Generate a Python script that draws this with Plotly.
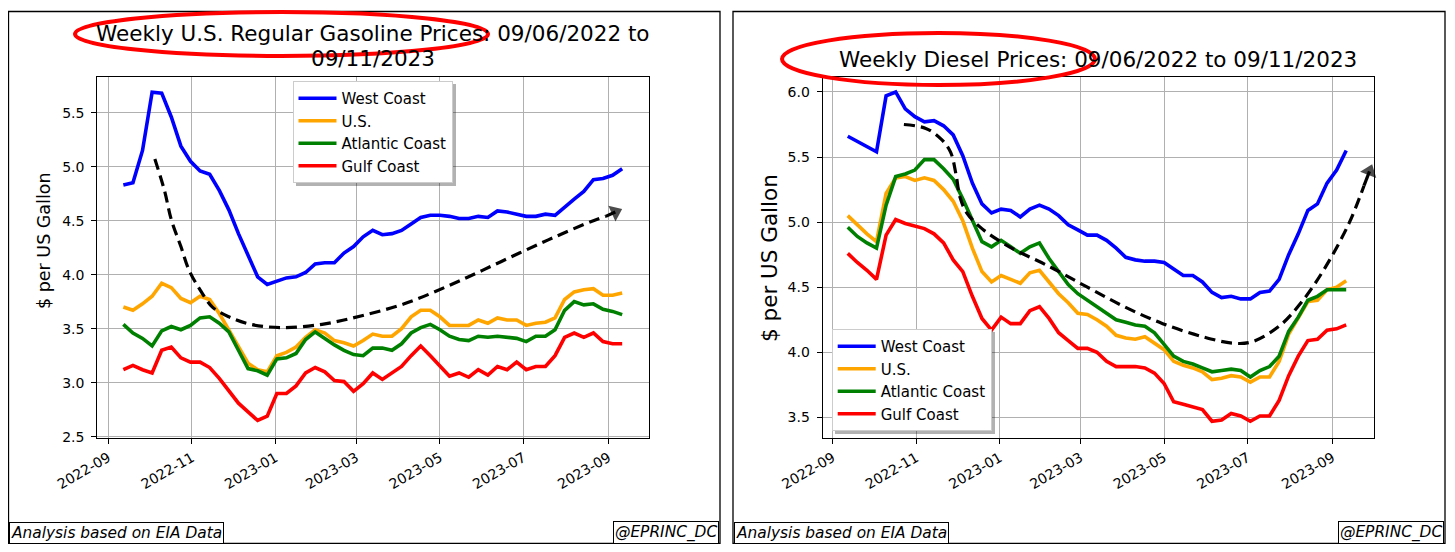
import pandas as pd
import plotly.graph_objects as go

# semanas (segunda-feira) de 12/09/2022 a 11/09/2023
semanas = pd.date_range("2022-09-12", periods=53, freq="7D")

# gasolina regular, $/galao
gas_west = [4.83, 4.85, 5.15, 5.69, 5.68, 5.46, 5.19, 5.05, 4.96, 4.93, 4.78, 4.60, 4.38, 4.17,
            3.98, 3.91, 3.94, 3.97, 3.98, 4.02, 4.10, 4.11, 4.11, 4.20, 4.26, 4.35, 4.41, 4.37,
            4.38, 4.41, 4.47, 4.53, 4.55, 4.55, 4.54, 4.52, 4.52, 4.54, 4.53, 4.59, 4.58, 4.56,
            4.54, 4.54, 4.56, 4.55, 4.63, 4.70, 4.77, 4.88, 4.89, 4.92, 4.98]
gas_us = [3.70, 3.67, 3.73, 3.80, 3.92, 3.88, 3.78, 3.74, 3.80, 3.77, 3.64, 3.49, 3.33, 3.18,
          3.12, 3.10, 3.25, 3.28, 3.33, 3.42, 3.49, 3.46, 3.39, 3.37, 3.34, 3.39, 3.45, 3.43,
          3.43, 3.50, 3.61, 3.67, 3.67, 3.61, 3.53, 3.53, 3.53, 3.58, 3.55, 3.60, 3.58, 3.58,
          3.53, 3.55, 3.56, 3.60, 3.77, 3.84, 3.86, 3.87, 3.81, 3.81, 3.83]
gas_atl = [3.54, 3.46, 3.41, 3.34, 3.48, 3.52, 3.49, 3.53, 3.60, 3.61, 3.55, 3.47, 3.30, 3.13,
           3.11, 3.07, 3.22, 3.23, 3.27, 3.40, 3.47, 3.41, 3.35, 3.30, 3.26, 3.25, 3.32, 3.32,
           3.30, 3.36, 3.46, 3.51, 3.54, 3.49, 3.43, 3.40, 3.39, 3.43, 3.42, 3.43, 3.42, 3.41,
           3.38, 3.43, 3.43, 3.49, 3.67, 3.75, 3.72, 3.73, 3.68, 3.66, 3.63]
gas_gulf = [3.12, 3.16, 3.12, 3.09, 3.30, 3.33, 3.23, 3.19, 3.19, 3.14, 3.04, 2.92, 2.81, 2.73,
            2.65, 2.69, 2.90, 2.90, 2.97, 3.09, 3.14, 3.10, 3.02, 3.01, 2.92, 2.99, 3.09, 3.03,
            3.09, 3.15, 3.25, 3.34, 3.25, 3.15, 3.06, 3.09, 3.05, 3.12, 3.07, 3.15, 3.12, 3.19,
            3.12, 3.15, 3.15, 3.25, 3.42, 3.46, 3.42, 3.46, 3.38, 3.36, 3.36]

# diesel, $/galao
dsl_west = [5.66, 5.62, 5.58, 5.54, 5.97, 6.00, 5.87, 5.81, 5.77, 5.78, 5.74, 5.67, 5.51, 5.30,
            5.14, 5.07, 5.10, 5.09, 5.04, 5.10, 5.13, 5.10, 5.05, 4.98, 4.94, 4.90, 4.90, 4.86,
            4.80, 4.73, 4.71, 4.70, 4.70, 4.69, 4.64, 4.59, 4.59, 4.54, 4.46, 4.42, 4.43, 4.41,
            4.41, 4.46, 4.47, 4.56, 4.75, 4.91, 5.09, 5.14, 5.30, 5.40, 5.55]
dsl_us = [5.05, 4.98, 4.91, 4.85, 5.22, 5.34, 5.35, 5.32, 5.34, 5.32, 5.25, 5.16, 5.01, 4.80,
          4.62, 4.54, 4.59, 4.56, 4.53, 4.61, 4.63, 4.54, 4.45, 4.38, 4.30, 4.29, 4.25, 4.20,
          4.13, 4.11, 4.10, 4.12, 4.07, 4.02, 3.93, 3.90, 3.88, 3.85, 3.79, 3.80, 3.82, 3.81,
          3.77, 3.81, 3.81, 3.93, 4.14, 4.26, 4.39, 4.40, 4.48, 4.50, 4.55]
dsl_atl = [4.96, 4.89, 4.84, 4.80, 5.13, 5.35, 5.37, 5.40, 5.48, 5.48, 5.41, 5.33, 5.18, 5.01,
           4.85, 4.81, 4.86, 4.81, 4.76, 4.81, 4.84, 4.72, 4.62, 4.52, 4.45, 4.40, 4.35, 4.30,
           4.25, 4.23, 4.21, 4.20, 4.15, 4.06, 3.97, 3.93, 3.91, 3.88, 3.85, 3.86, 3.87, 3.86,
           3.81, 3.86, 3.89, 3.97, 4.16, 4.27, 4.40, 4.43, 4.48, 4.48, 4.48]
dsl_gulf = [4.76, 4.69, 4.63, 4.56, 4.90, 5.02, 4.99, 4.97, 4.95, 4.91, 4.84, 4.71, 4.62, 4.43,
            4.26, 4.17, 4.27, 4.22, 4.22, 4.32, 4.35, 4.26, 4.15, 4.09, 4.03, 4.03, 4.00, 3.93,
            3.89, 3.89, 3.89, 3.88, 3.84, 3.76, 3.62, 3.60, 3.58, 3.56, 3.47, 3.48, 3.53, 3.51,
            3.47, 3.51, 3.51, 3.63, 3.82, 3.97, 4.09, 4.10, 4.17, 4.18, 4.21]

# setas tracejadas (tendencia desenhada a mao)
seta_gas_x = ["2022-10-05", "2022-10-12", "2022-10-17", "2022-10-24", "2022-10-30", "2022-11-07",
              "2022-11-16", "2022-11-28", "2022-12-14", "2023-01-06", "2023-02-04", "2023-03-05",
              "2023-04-05", "2023-05-06", "2023-06-01", "2023-06-28", "2023-07-24", "2023-08-19",
              "2023-08-30"]
seta_gas_y = [5.07, 4.78, 4.51, 4.26, 4.04, 3.86, 3.70, 3.61, 3.54, 3.51, 3.54, 3.62, 3.73, 3.89,
              4.04, 4.20, 4.35, 4.49, 4.54]
seta_gas_ponta = ("2023-09-06", 4.58)

seta_dsl_x = ["2022-10-23", "2022-11-08", "2022-11-19", "2022-11-26", "2022-11-30", "2022-12-03",
              "2022-12-08", "2022-12-19", "2023-01-08", "2023-02-06", "2023-03-06", "2023-04-02",
              "2023-04-30", "2023-05-29", "2023-06-20", "2023-07-04", "2023-07-24", "2023-08-09",
              "2023-08-26", "2023-09-13", "2023-09-24"]
seta_dsl_y = [5.75, 5.72, 5.64, 5.54, 5.37, 5.19, 5.07, 4.95, 4.81, 4.66, 4.50, 4.35, 4.22, 4.12,
              4.07, 4.08, 4.20, 4.38, 4.64, 4.99, 5.28]
seta_dsl_ponta = ("2023-09-28", 5.39)

regioes = ["West Coast", "U.S.", "Atlantic Coast", "Gulf Coast"]
cores = ["blue", "orange", "green", "red"]

# a pagina tem 8px de margem no body
OX, OY = 8, 8
W, H = 1439, 536
FONTE = "DejaVu Sans"


def px(x):
    return (x - OX) / W


def py(y):
    return 1 - (y - OY) / H


fig = go.Figure()

for nome, cor, yv in zip(regioes, cores, [gas_west, gas_us, gas_atl, gas_gulf]):
    fig.add_trace(go.Scatter(x=semanas, y=yv, name=nome, mode="lines",
                             line=dict(color=cor, width=3.6), xaxis="x", yaxis="y",
                             legend="legend"))
for nome, cor, yv in zip(regioes, cores, [dsl_west, dsl_us, dsl_atl, dsl_gulf]):
    fig.add_trace(go.Scatter(x=semanas, y=yv, name=nome, mode="lines",
                             line=dict(color=cor, width=3.6), xaxis="x2", yaxis="y2",
                             legend="legend2"))

for xs, ys, ponta, xa, ya in [(seta_gas_x, seta_gas_y, seta_gas_ponta, "x", "y"),
                              (seta_dsl_x, seta_dsl_y, seta_dsl_ponta, "x2", "y2")]:
    fig.add_trace(go.Scatter(x=xs, y=ys, mode="lines", showlegend=False,
                             line=dict(color="black", width=3.2, dash="11px,6px", shape="spline"),
                             xaxis=xa, yaxis=ya, hoverinfo="skip", cliponaxis=False))
    # ponta da seta orientada pelo ultimo trecho
    fig.add_trace(go.Scatter(x=[xs[-1], ponta[0]], y=[ys[-1], ponta[1]], mode="lines+markers",
                             showlegend=False, line=dict(color="black", width=3.2),
                             marker=dict(symbol="triangle-up", size=[0, 15], color="black",
                                         angleref="previous", line=dict(width=0)),
                             xaxis=xa, yaxis=ya, hoverinfo="skip", cliponaxis=False))

eixo_x = dict(type="date", tick0="2022-09-01", dtick="M2", tickformat="%Y-%m", tickangle=-30,
              showgrid=True, gridcolor="#b0b0b0", gridwidth=0.8, showline=True, mirror=True,
              linecolor="black", linewidth=1.1, ticks="outside", ticklen=5, tickcolor="black",
              tickfont=dict(family=FONTE, size=14, color="black"), automargin=False,
              zeroline=False)
eixo_y = dict(dtick=0.5, tickformat=".1f", showgrid=True, gridcolor="#b0b0b0", gridwidth=0.8,
              showline=True, mirror=True, linecolor="black", linewidth=1.1, ticks="outside",
              ticklen=5, tickcolor="black", tickfont=dict(family=FONTE, size=14, color="black"),
              ticklabelstandoff=4, automargin=False, zeroline=False)

leg = dict(xanchor="left", yanchor="top", bgcolor="white", bordercolor="#cccccc", borderwidth=1,
           itemwidth=38, font=dict(family=FONTE, size=15, color="black"))

dom_y = [py(438.3), py(77)]
fig.update_layout(
    width=W, height=H,
    margin=dict(l=0, r=0, t=0, b=0),
    paper_bgcolor="white", plot_bgcolor="white",
    font=dict(family=FONTE, color="black"),
    xaxis=dict(eixo_x, domain=[px(97.3), px(649.3)], anchor="y",
               range=["2022-08-24", "2023-09-30 19:00"]),
    yaxis=dict(eixo_y, domain=dom_y, anchor="x", range=[2.485, 5.83]),
    xaxis2=dict(eixo_x, domain=[px(822.7), px(1374)], anchor="y2",
                range=["2022-08-24 17:00", "2023-10-01 07:00"]),
    yaxis2=dict(eixo_y, domain=dom_y, anchor="x2", range=[3.339, 6.115]),
    legend=dict(leg, x=px(292.5), y=py(81)),
    legend2=dict(leg, x=px(831.7), y=py(329)),
    showlegend=True,
)

# titulos e rotulos
def texto(t, x, y, tam, ang=0):
    fig.add_annotation(text=t, x=px(x), y=py(y), xref="paper", yref="paper", xanchor="center",
                       yanchor="middle", showarrow=False, textangle=ang, font=dict(size=tam))


texto("Weekly U.S. Regular Gasoline Prices: 09/06/2022 to", 373, 34, 21.5)
texto("09/11/2023", 373, 58.5, 21.5)
texto("Weekly Diesel Prices: 09/06/2022 to 09/11/2023", 1098, 59, 21.5)
texto("$ per US Gallon", 44, 241, 17.5, -90)
texto("$ per US Gallon", 769, 258, 21.5, -90)

# rodapes
for x_esq, x_dir in [(9, 719), (734, 1444)]:
    fig.add_annotation(text="<i>Analysis based on EIA Data</i>", x=px(x_esq), y=py(544),
                       xref="paper", yref="paper", xanchor="left", yanchor="bottom",
                       showarrow=False, font=dict(size=15.4), bgcolor="white",
                       bordercolor="black", borderwidth=1, borderpad=1)
    fig.add_annotation(text="<i>@EPRINC_DC</i>", x=px(x_dir), y=py(544), xref="paper",
                       yref="paper", xanchor="right", yanchor="bottom", showarrow=False,
                       font=dict(size=15.4), bgcolor="white", bordercolor="black",
                       borderwidth=1, borderpad=1)

# molduras, sombras das legendas e elipses vermelhas
for x0, x1 in [(8.5, 720), (733, 1445)]:
    fig.add_shape(type="rect", xref="paper", yref="paper", x0=px(x0), x1=px(x1), y0=py(543.5),
                  y1=py(11.5), line=dict(color="black", width=1.3))
for x0, y0, x1, y1 in [(296, 84, 456, 186), (835, 332, 995, 434)]:
    fig.add_shape(type="rect", xref="paper", yref="paper", x0=px(x0), x1=px(x1), y0=py(y1),
                  y1=py(y0), fillcolor="rgba(0,0,0,0.3)", line=dict(width=0), layer="above")
for x0, y0, x1, y1 in [(75, 12, 488, 56), (782, 33, 1095, 85)]:
    fig.add_shape(type="circle", xref="paper", yref="paper", x0=px(x0), x1=px(x1), y0=py(y1),
                  y1=py(y0), line=dict(color="red", width=4), layer="above")

fig.write_html("out.html")
